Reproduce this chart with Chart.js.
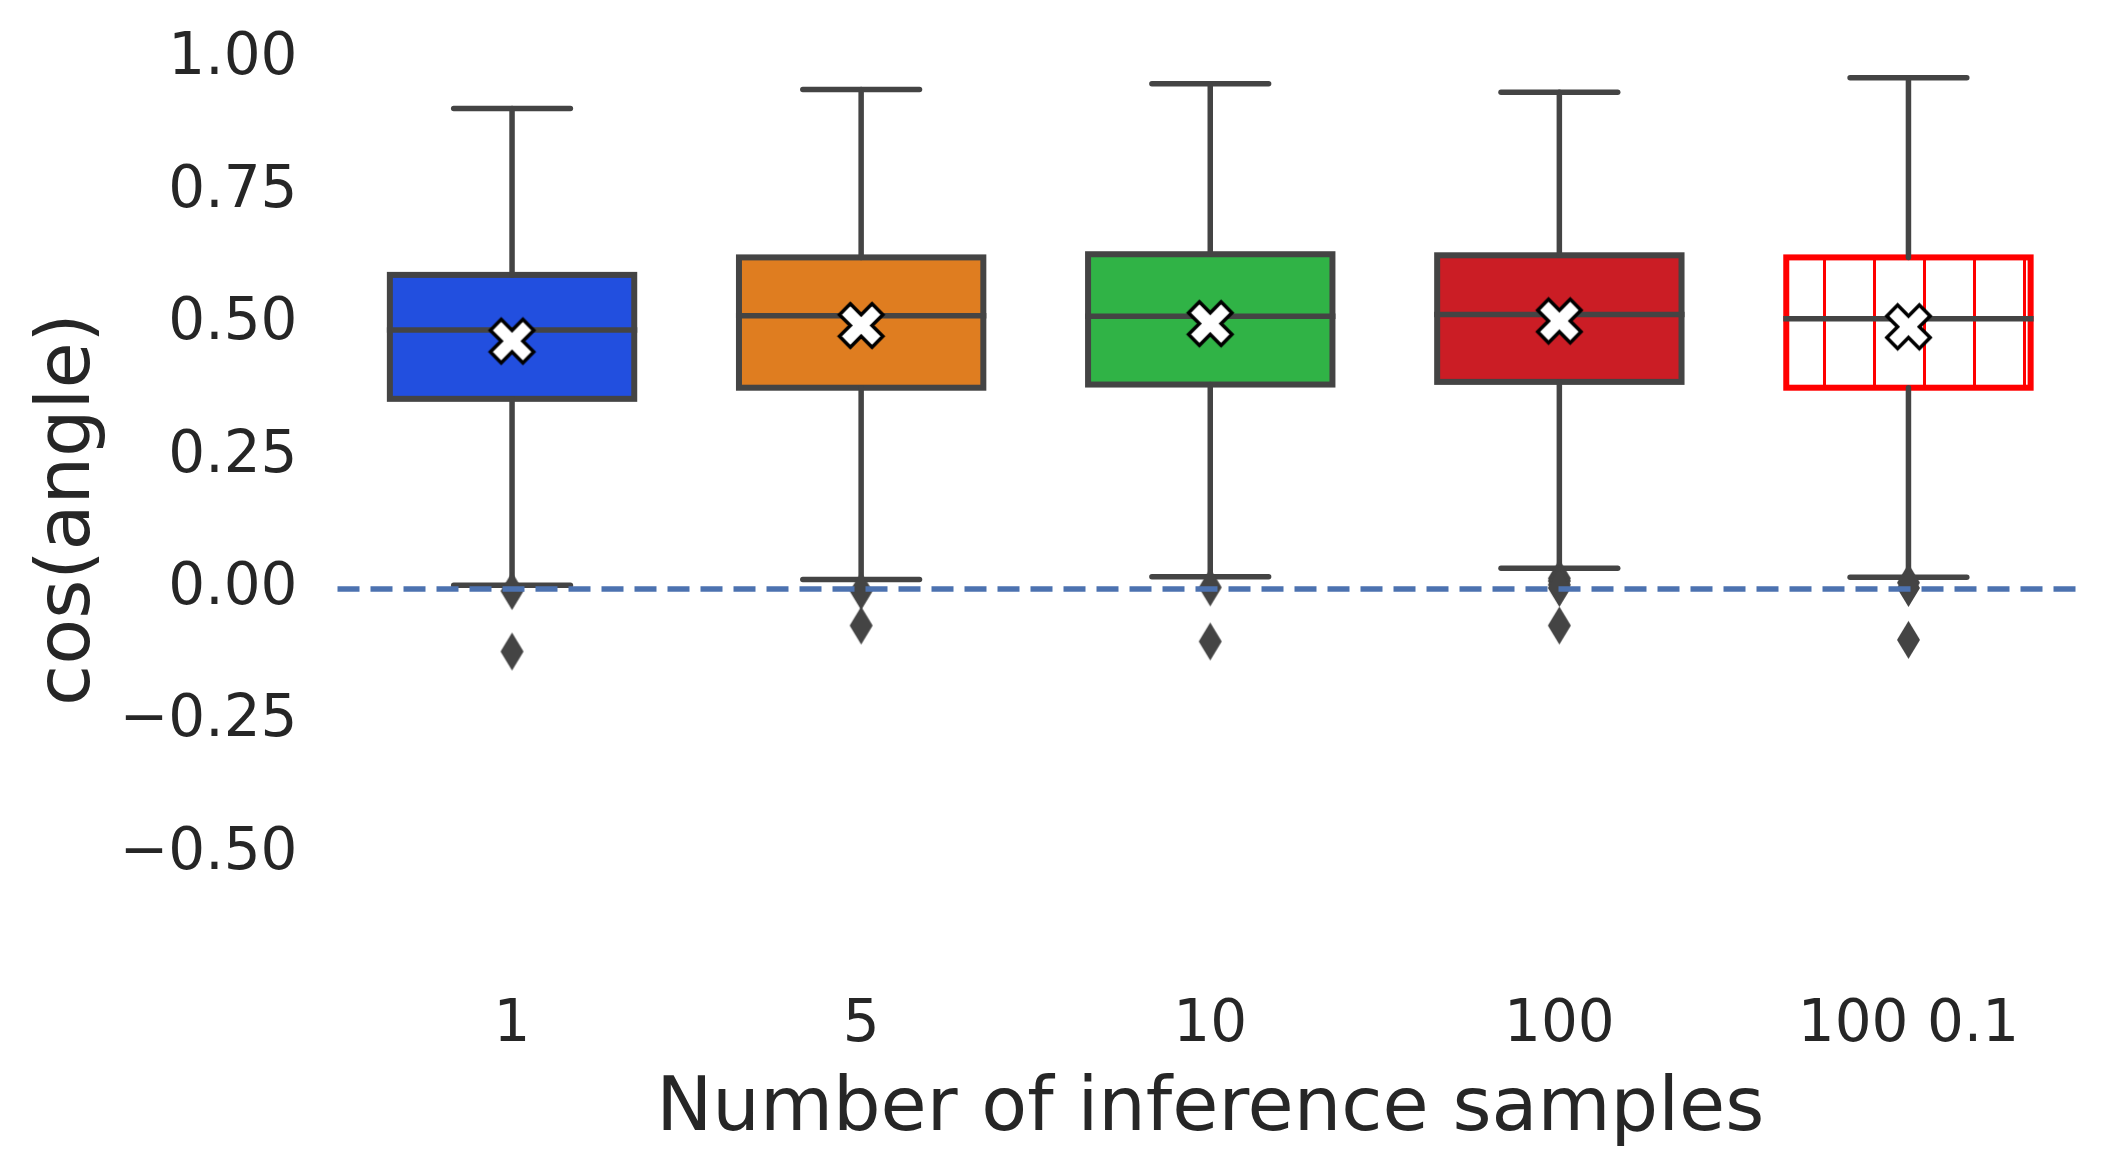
<!DOCTYPE html>
<html>
<head>
<meta charset="utf-8">
<script src="https://cdn.jsdelivr.net/npm/chart.js@4.4.1/dist/chart.umd.min.js"></script>
<style>
html,body{margin:0;padding:0;background:#ffffff;}
#wrap{width:2111px;height:1174px;}
</style>
</head>
<body>
<div id="wrap"><canvas id="c" width="2111" height="1174"></canvas></div>
<script>
// ---- data ----
const categories   = ['1', '5', '10', '100', '100 0.1'];
const whiskerHigh  = [0.907, 0.943, 0.954, 0.938, 0.965];
const q3Values     = [0.593, 0.626, 0.632, 0.630, 0.626];
const medianValues = [0.489, 0.516, 0.515, 0.518, 0.510];
const meanValues   = [0.468, 0.4975, 0.501, 0.506, 0.495];
const q1Values     = [0.359, 0.380, 0.386, 0.391, 0.380];
const whiskerLow   = [0.007, 0.018, 0.023, 0.039, 0.022];
const outliers     = [
  [-0.004, -0.118],
  [-0.004, -0.069],
  [0.003, -0.099],
  [0.020, 0.015, 0.008, 0.002, -0.069],
  [0.012, 0.002, -0.096]
];
const yTicks = [1.00, 0.75, 0.50, 0.25, 0.00, -0.25, -0.50];
const yMin = -0.7, yMax = 1.0;
const refLineValue = 0;

// ---- styles ----
const boxFills   = ['#224fdf', '#df7d20', '#30b346', '#cb1d25'];
const edgeGray   = '#444444';
const boxEdges   = [edgeGray, edgeGray, edgeGray, edgeGray, '#ff0000'];
const textColor  = '#262626';

const canvas = document.getElementById('c');
const ctx = canvas.getContext('2d');

function makeHatch() {
  const c = document.createElement('canvas');
  c.width = 50; c.height = 10;
  const g = c.getContext('2d');
  g.fillStyle = '#ffffff'; g.fillRect(0, 0, 50, 10);
  g.fillStyle = '#ff0000'; g.fillRect(23, 0, 3, 10);
  return ctx.createPattern(c, 'repeat');
}
function makeX(S, lw) {
  const size = Math.ceil(S + lw * 2 + 4);
  const c = document.createElement('canvas');
  c.width = c.height = size;
  const g = c.getContext('2d');
  const a = S / 2, t = S / 6;
  const pts = [[-t,-a],[t,-a],[t,-t],[a,-t],[a,t],[t,t],[t,a],[-t,a],[-t,t],[-a,t],[-a,-t],[-t,-t]];
  g.translate(size / 2, size / 2);
  g.rotate(Math.PI / 4);
  g.beginPath();
  pts.forEach(([x, y], k) => k ? g.lineTo(x, y) : g.moveTo(x, y));
  g.closePath();
  g.fillStyle = '#ffffff'; g.fill();
  g.lineWidth = lw; g.lineJoin = 'miter'; g.strokeStyle = '#000000'; g.stroke();
  return c;
}
function makeDiamond(h, w) {
  const c = document.createElement('canvas');
  c.width = w + 2; c.height = h + 2;
  const g = c.getContext('2d');
  const cw = c.width, ch = c.height;
  g.beginPath();
  g.moveTo(cw / 2, 1); g.lineTo(cw - 1, ch / 2); g.lineTo(cw / 2, ch - 1); g.lineTo(1, ch / 2);
  g.closePath();
  g.fillStyle = edgeGray; g.fill();
  return c;
}

const xMarker = makeX(46, 3.5);
const diamondMarker = makeDiamond(38, 23);
const hatch = makeHatch();

const outlierPoints = [];
outliers.forEach((list, i) => list.forEach(v => outlierPoints.push({ x: categories[i], y: v })));

const fmt = v => (v < 0 ? '\u2212' : '') + Math.abs(v).toFixed(2);

const boxPlugin = {
  id: 'boxParts',
  afterDatasetDraw(chart, args) {
    const meta = args.meta;
    if (meta.type !== 'bar') return;
    const c = chart.ctx, ys = chart.scales.y;
    const seg = (x1, y1, x2, y2) => { c.beginPath(); c.moveTo(x1, y1); c.lineTo(x2, y2); c.stroke(); };
    c.save();
    meta.data.forEach((el, i) => {
      const cx = el.x, w = el.width;
      const yq1 = ys.getPixelForValue(q1Values[i]);
      const yq3 = ys.getPixelForValue(q3Values[i]);
      const ylo = ys.getPixelForValue(whiskerLow[i]);
      const yhi = ys.getPixelForValue(whiskerHigh[i]);
      const ymed = ys.getPixelForValue(medianValues[i]);
      // box outline, centred on the quartile values
      c.strokeStyle = boxEdges[i];
      c.lineWidth = 6;
      c.lineJoin = 'miter';
      c.strokeRect(cx - w / 2, yq3, w, yq1 - yq3);
      // whiskers, caps, median
      c.strokeStyle = edgeGray;
      c.lineWidth = 5.5;
      c.lineCap = 'round';
      seg(cx, yq3, cx, yhi);
      seg(cx, yq1, cx, ylo);
      const half = w * 0.25 - 2.75;
      seg(cx - half, yhi, cx + half, yhi);
      seg(cx - half, ylo, cx + half, ylo);
      c.lineCap = 'butt';
      seg(cx - w / 2 - 3, ymed, cx + w / 2 + 3, ymed);
    });
    c.restore();
  },
  afterDatasetsDraw(chart) {
    const c = chart.ctx, a = chart.chartArea;
    const y0 = chart.scales.y.getPixelForValue(refLineValue);
    c.save();
    c.strokeStyle = '#4c72b0';
    c.lineWidth = 5.5;
    c.setLineDash([22, 11]);
    c.beginPath(); c.moveTo(a.left, y0); c.lineTo(a.right, y0); c.stroke();
    c.restore();
  }
};

Chart.defaults.font.family = "'DejaVu Sans', sans-serif";
Chart.defaults.color = textColor;

new Chart(ctx, {
  type: 'bar',
  data: {
    labels: categories,
    datasets: [
      {
        type: 'line', label: 'mean', data: meanValues, showLine: false,
        pointStyle: xMarker, pointRadius: 10, order: 1
      },
      {
        type: 'line', label: 'outliers', data: outlierPoints, showLine: false,
        pointStyle: diamondMarker, pointRadius: 10, order: 2
      },
      {
        type: 'bar', label: 'box',
        data: categories.map((c, i) => [q1Values[i], q3Values[i]]),
        backgroundColor: [boxFills[0], boxFills[1], boxFills[2], boxFills[3], hatch],
        borderWidth: 0,
        borderSkipped: false,
        barPercentage: 0.70, categoryPercentage: 1.0,
        order: 3
      }
    ]
  },
  options: {
    responsive: false,
    animation: false,
    devicePixelRatio: 1,
    layout: { padding: { top: 59.3, right: 28, left: 0, bottom: 0 } },
    plugins: { legend: { display: false }, tooltip: { enabled: false } },
    scales: {
      x: {
        grid: { display: false, drawTicks: false },
        border: { display: false },
        ticks: { font: { size: 58 }, padding: 31.7, color: textColor },
        title: { display: true, text: 'Number of inference samples', font: { size: 75 }, color: textColor, padding: { top: 0, bottom: 18.7 } },
        afterFit(s) { s.height = 214.2; s.paddingLeft = 0; s.paddingRight = 0; }
      },
      y: {
        min: yMin, max: yMax,
        grid: { display: false, drawTicks: false },
        border: { display: false },
        afterBuildTicks(s) { s.ticks = yTicks.map(v => ({ value: v })); },
        ticks: { font: { size: 58 }, padding: 40, color: textColor, callback: v => fmt(v) },
        title: { display: true, text: 'cos(angle)', font: { size: 75 }, color: textColor, padding: { top: 24.4, bottom: 0 } },
        afterFit(s) { s.width = 337.5; s.paddingTop = 0; s.paddingBottom = 0; }
      }
    }
  },
  plugins: [boxPlugin]
});
</script>
</body>
</html>
